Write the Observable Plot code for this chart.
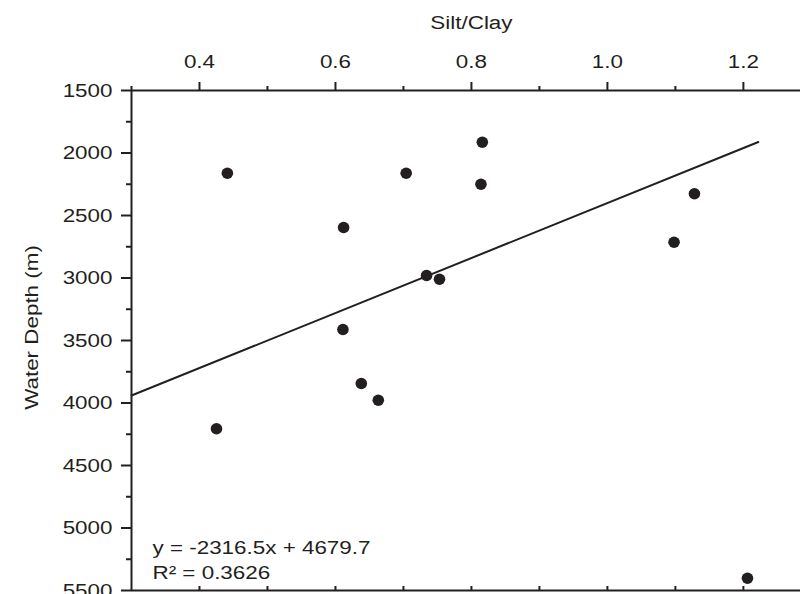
<!DOCTYPE html>
<html>
<head>
<meta charset="utf-8">
<script src="https://cdn.jsdelivr.net/npm/d3@7"></script>
<script src="https://cdn.jsdelivr.net/npm/@observablehq/plot@0.6"></script>
<style>
  html, body { margin: 0; padding: 0; background: #fff; }
  #chart svg { font-family: "Liberation Sans", Arial, Helvetica, sans-serif; }
</style>
</head>
<body>
<div id="chart"></div>
<script>
// Data
const siltClay = [0.441, 0.704, 0.816, 0.814, 0.612, 0.734, 0.753, 0.611, 0.638, 0.663, 0.425, 1.128, 1.098, 1.206];
const waterDepth = [2162, 2162, 1914, 2250, 2596, 2980, 3010, 3412, 3844, 3978, 4206, 2326, 2714, 5402];
const fitX = [0.3, 1.222];
const fitY = [3940, 1912];
const xMajorTicks = [0.4, 0.6, 0.8, 1.0, 1.2];
const xMinorTicks = [0.3, 0.5, 0.7, 0.9, 1.1];
const xBottomTicks = [0.4, 0.5, 0.6, 0.7, 0.8, 0.9, 1.0, 1.1, 1.2];
const yMajorTicks = [1500, 2000, 2500, 3000, 3500, 4000, 4500, 5000, 5500];
const yMinorTicks = [1750, 2250, 2750, 3250, 3750, 4250, 4750, 5250];
const xTitle = "Silt/Clay";
const yTitle = "Water Depth (m)";
const equation = "y = -2316.5x + 4679.7";
const r2 = "R² = 0.3626";

const points = siltClay.map((x, i) => ({x, y: waterDepth[i]}));
const fit = fitX.map((x, i) => ({x, y: fitY[i]}));

const FS = 19;
const INK = "#231f20";
const chart = Plot.plot({
  width: 800,
  height: 594,
  marginLeft: 131,
  marginRight: 0,
  marginTop: 90,
  marginBottom: 4,
  style: {fontSize: FS + "px", fontFamily: "'Liberation Sans', Arial, sans-serif", color: INK, background: "#fff"},
  x: {domain: [0.3, 1.284]},
  y: {domain: [1500, 5500], reverse: true},
  marks: [
    // frame lines
    Plot.ruleY([1500], {stroke: INK, strokeWidth: 2}),
    Plot.ruleY([5500], {stroke: INK, strokeWidth: 2}),
    Plot.ruleX([0.3], {stroke: INK, strokeWidth: 2}),
    // top axis
    Plot.axisX({anchor: "top", ticks: xMajorTicks, tickSize: 9, tickPadding: 14, tickFormat: d3.format(".1f"), label: null, strokeWidth: 2, fontSize: FS}),
    Plot.axisX({anchor: "top", ticks: xMinorTicks, tickSize: 5, tickFormat: () => "", label: null, strokeWidth: 2}),
    // bottom axis ticks (inward)
    Plot.axisX({anchor: "bottom", ticks: xBottomTicks, tickSize: -4, tickFormat: () => "", label: null, strokeWidth: 2}),
    // left axis
    Plot.axisY({anchor: "left", ticks: yMajorTicks, tickSize: 10, tickPadding: 9, tickFormat: d => String(d), label: null, strokeWidth: 2, fontSize: FS}),
    Plot.axisY({anchor: "left", ticks: yMinorTicks, tickSize: 5, tickFormat: () => "", label: null, strokeWidth: 2}),
    // regression line
    Plot.line(fit, {x: "x", y: "y", stroke: INK, strokeWidth: 2}),
    // points
    Plot.dot(points, {x: "x", y: "y", r: 5.8, fill: INK, stroke: "none"}),
    // titles
    Plot.text([xTitle], {x: [0.8], frameAnchor: "top", lineAnchor: "middle", dy: -68, text: d => d, fontSize: FS, fill: INK}),
    Plot.text([yTitle], {frameAnchor: "left", lineAnchor: "middle", textAnchor: "middle", dx: -100, dy: -13, rotate: -90, text: d => d, fontSize: FS, fill: INK}),
    // equation annotation
    Plot.text([equation], {frameAnchor: "bottom-left", lineAnchor: "middle", dx: 21, dy: -43, textAnchor: "start", text: d => d, fontSize: FS, fill: INK}),
    Plot.text([r2], {frameAnchor: "bottom-left", lineAnchor: "middle", dx: 21, dy: -18, textAnchor: "start", text: d => d, fontSize: FS, fill: INK})
  ]
});

// The reference's lettering is horizontally wider than Liberation Sans: stretch each text about its anchor.
const STRETCH = 1.18;
chart.querySelectorAll("text").forEach(t => {
  const x = parseFloat(t.getAttribute("x")) || 0;
  const tr = t.getAttribute("transform") || "";
  t.setAttribute("transform", `${tr} translate(${x},0) scale(${STRETCH},1) translate(${-x},0)`.trim());
});
document.getElementById("chart").appendChild(chart);
</script>
</body>
</html>
